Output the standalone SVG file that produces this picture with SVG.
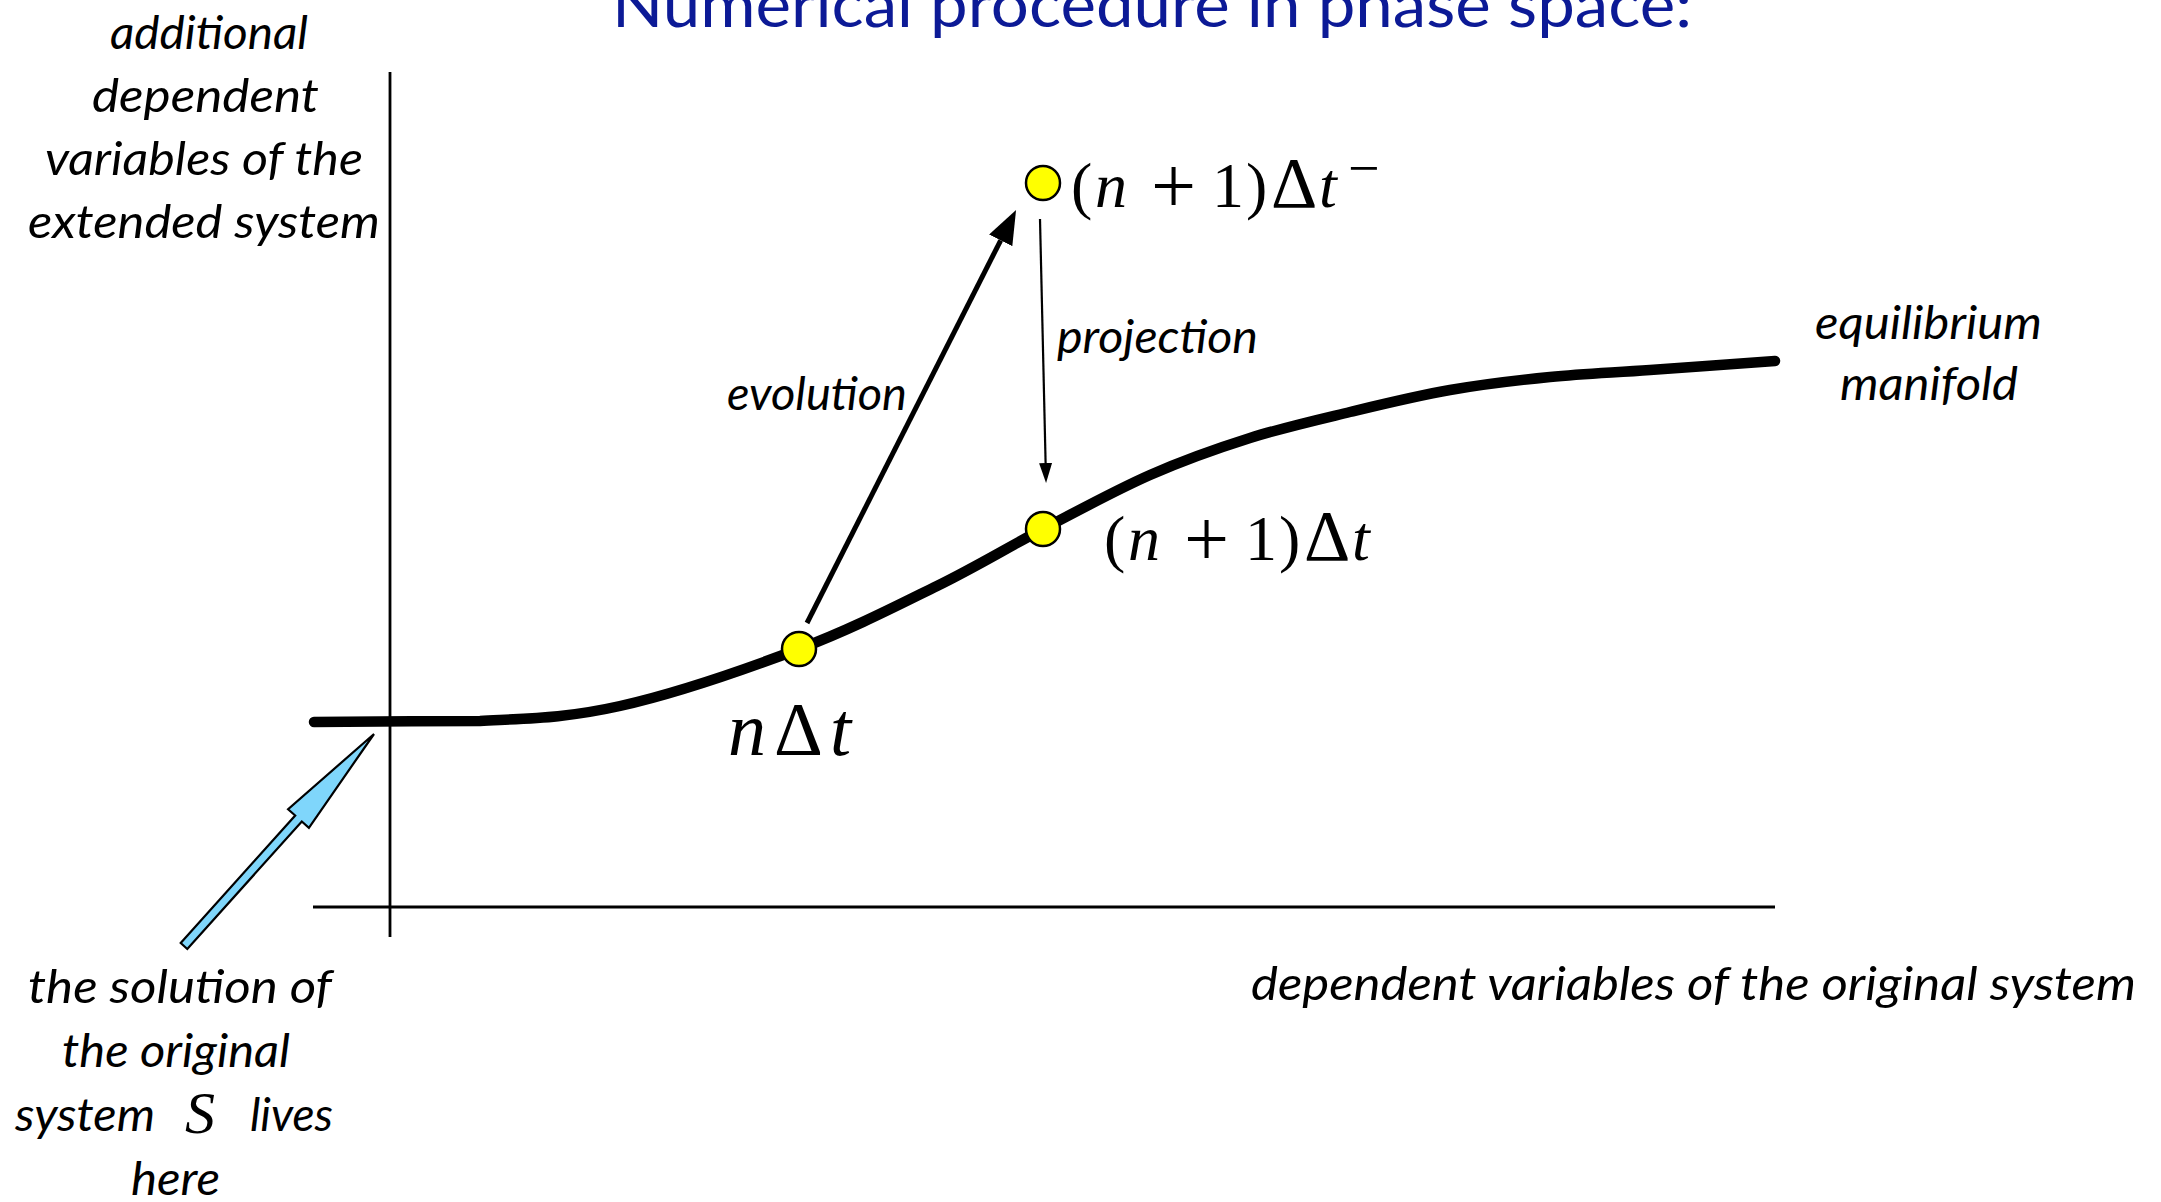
<svg xmlns="http://www.w3.org/2000/svg" width="2161" height="1202" viewBox="0 0 2161 1202">
<style>
  .lbl{font-family:Lato,"Open Sans","Noto Sans",sans-serif;font-style:italic;font-size:46px;fill:#000}
  .title{font-family:Lato,"Open Sans","Noto Sans",sans-serif;font-size:62px;fill:#0c1a96}
  .math{font-family:"Liberation Serif","Times New Roman",serif;font-size:64px;fill:#000}
  .mi{font-style:italic}
  .axis{stroke:#000;stroke-width:2.8;fill:none}
  .pt{fill:#ffff00;stroke:#000;stroke-width:2.5}
</style>
<defs>
  <marker id="headBig" markerUnits="userSpaceOnUse" markerWidth="34" markerHeight="26" viewBox="0 0 34 26" refX="0" refY="13" orient="auto">
    <path d="M0,0 L34,13 L0,26 z" fill="#000"/>
  </marker>
  <marker id="headSmall" markerUnits="userSpaceOnUse" markerWidth="20" markerHeight="13" viewBox="0 0 20 13" refX="0" refY="6.5" orient="auto">
    <path d="M0,0 L20,6.5 L0,13 z" fill="#000"/>
  </marker>
</defs>
<rect width="2161" height="1202" fill="#fff"/>

<text id="title" class="title" x="612" y="27" textLength="1080" lengthAdjust="spacingAndGlyphs">Numerical procedure in phase space:</text>

<g id="axes">
  <line class="axis" x1="390" y1="72" x2="390" y2="937"/>
  <line class="axis" x1="313" y1="907" x2="1775" y2="907"/>
</g>

<g id="manifold">
  <path d="M314,722 C341.7,721.8 429,721 480,721 C531,718.3 566.8,718 620,706 C673.2,694 746.2,669 799,649 C851.8,629 896.3,606 937,586 C977.7,566 1007.5,547.5 1043,529 C1078.5,510.5 1115.5,490.2 1150,475 C1184.5,459.8 1216.7,448.5 1250,438 C1283.3,427.5 1316.7,420 1350,412 C1383.3,404 1416.7,395.8 1450,390 C1483.3,384.2 1516.7,380.3 1550,377 C1583.3,373.7 1612.5,372.7 1650,370 C1687.5,367.3 1754.2,362.5 1775,361" fill="none" stroke="#000" stroke-width="10.5" stroke-linecap="round"/>
</g>

<g id="connectors">
  <path id="evolution-arrow" d="M807,623 L1000.7,240.3" stroke="#000" stroke-width="5" fill="none" marker-end="url(#headBig)"/>
  <path id="projection-arrow" d="M1040,219 L1045.6,463" stroke="#000" stroke-width="2.2" fill="none" marker-end="url(#headSmall)"/>
  <polygon id="solution-arrow" points="180.7,943 295.2,815.5 288.1,809.2 374,734 308.9,827.8 301.8,821.5 187.3,949" fill="#7fd6fb" stroke="#000" stroke-width="2.2" stroke-linejoin="miter"/>
</g>

<g id="node-n">
  <circle class="pt" cx="799" cy="649" r="17"/>
  <text class="math" y="755" style="font-size:76px"><tspan x="728" class="mi">n</tspan><tspan x="774">Δ</tspan><tspan x="830" class="mi">t</tspan></text>
</g>

<g id="node-n1">
  <circle class="pt" cx="1043" cy="529" r="17"/>
  <text class="math" y="560"><tspan x="1104">(</tspan><tspan x="1128" class="mi">n</tspan><tspan x="1184" y="566" font-size="80">+</tspan><tspan x="1245" y="560">1</tspan><tspan x="1279">)</tspan><tspan x="1304" font-size="72">Δ</tspan><tspan x="1352" class="mi">t</tspan></text>
</g>

<g id="node-n1minus">
  <circle class="pt" cx="1043" cy="183" r="17"/>
  <text class="math" y="207"><tspan x="1071">(</tspan><tspan x="1095" class="mi">n</tspan><tspan x="1151" y="213" font-size="80">+</tspan><tspan x="1212" y="207">1</tspan><tspan x="1246">)</tspan><tspan x="1271" font-size="72">Δ</tspan><tspan x="1319" class="mi">t</tspan><tspan x="1348" y="187" font-size="56">−</tspan></text>
</g>

<g id="label-evolution">
  <text class="lbl" x="727" y="410" textLength="180" lengthAdjust="spacingAndGlyphs">evolution</text>
</g>
<g id="label-projection">
  <text class="lbl" x="1057" y="353" textLength="201" lengthAdjust="spacingAndGlyphs">projection</text>
</g>

<g id="label-yaxis">
  <text class="lbl" x="110" y="49" textLength="198" lengthAdjust="spacingAndGlyphs">additional</text>
  <text class="lbl" x="92" y="112" textLength="227" lengthAdjust="spacingAndGlyphs">dependent</text>
  <text class="lbl" x="45" y="175" textLength="318" lengthAdjust="spacingAndGlyphs">variables of the</text>
  <text class="lbl" x="28" y="238" textLength="352" lengthAdjust="spacingAndGlyphs">extended system</text>
</g>

<g id="label-manifold">
  <text class="lbl" x="1815" y="339" textLength="227" lengthAdjust="spacingAndGlyphs">equilibrium</text>
  <text class="lbl" x="1840" y="400" textLength="178" lengthAdjust="spacingAndGlyphs">manifold</text>
</g>

<g id="label-xaxis">
  <text class="lbl" x="1251" y="1000" textLength="885" lengthAdjust="spacingAndGlyphs">dependent variables of the original system</text>
</g>

<g id="label-solution">
  <text class="lbl" x="28" y="1003" textLength="304" lengthAdjust="spacingAndGlyphs">the solution of</text>
  <text class="lbl" x="62" y="1067" textLength="228" lengthAdjust="spacingAndGlyphs">the original</text>
  <text class="lbl" x="15" y="1131" textLength="140" lengthAdjust="spacingAndGlyphs">system</text>
  <text class="math mi" x="185" y="1133" style="font-size:60px">S</text>
  <text class="lbl" x="250" y="1131" textLength="83" lengthAdjust="spacingAndGlyphs">lives</text>
  <text class="lbl" x="131" y="1195" textLength="89" lengthAdjust="spacingAndGlyphs">here</text>
</g>
</svg>
